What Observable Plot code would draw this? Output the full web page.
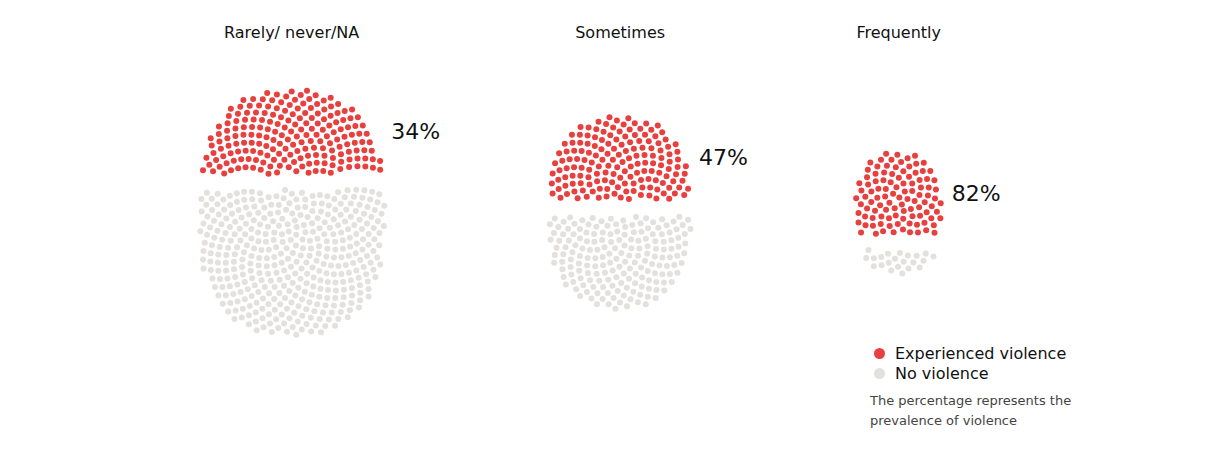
<html>
<head>
  <!-- load d3 and plot -->
  <script src="https://cdn.jsdelivr.net/npm/d3@7"></script>
  <script src="https://cdn.jsdelivr.net/npm/@observablehq/plot@0.6"></script>
  <style>
    body { margin: 0; background: #fff; font-family: "DejaVu Sans", sans-serif; }
    #wrap { position: relative; width: 1217px; height: 449px; }
    #legend { position: absolute; left: 874px; top: 343px; font-size: 16px; color: #111; }
    #legend .row { display: flex; align-items: center; height: 20px; }
    #legend .sw { width: 11px; height: 11px; border-radius: 50%; margin-right: 10px; }
    #legend .note { margin-top: 8px; margin-left: -4px; font-size: 13px; line-height: 20px; color: #444; }
  </style>
</head>
<body>
  <div id="wrap">
    <div id="chart"></div>
    <div id="legend">
      <div class="row"><span class="sw" style="background:#e8403e"></span>Experienced violence</div>
      <div class="row"><span class="sw" style="background:#e3e0de"></span>No violence</div>
      <div class="note">The percentage represents the<br>prevalence of violence</div>
    </div>
  </div>
  <script>
    // groups, estimated number of dots, and share who experienced violence
    const groups = ["Rarely/ never/NA", "Sometimes", "Frequently"];
    const totals = [580, 340, 125];
    const prevalence = [34, 47, 82];
    const statuses = ["Experienced violence", "No violence"];

    // layout settings
    const cell = 62;        // px² per dot
    const stretch = 1.24;   // blobs are a little taller than wide
    const power = 2.4;      // superellipse exponent, a bit boxier than a circle
    const gap = 8;          // half of the split between the two parts
    const spacing = 164;    // space between blobs
    const golden = Math.PI * (3 - Math.sqrt(5));
    const c = Math.sqrt(cell / Math.PI);

    // gamma function (lanczos), for the area of a unit superellipse
    function gamma(z) {
      const g = [76.18009172947146, -86.50532032941677, 24.01409824083091,
        -1.231739572450155, 0.1208650973866179e-2, -0.5395239384953e-5];
      let y = z, t = z + 5.5;
      t -= (z + 0.5) * Math.log(t);
      let s = 1.000000000190015;
      for (const k of g) s += k / ++y;
      return Math.exp(-t + Math.log(2.5066282746310005 * s / z));
    }
    const unitArea = 4 * gamma(1 + 1 / power) ** 2 / gamma(1 + 2 / power);

    const points = [];
    const labels = [];
    let cursor = 198;
    groups.forEach((g, j) => {
      const n = totals[j];
      const k = Math.round(n * prevalence[j] / 100);
      const a = Math.sqrt(n * cell / (unitArea * stretch));
      const b = a * stretch;
      const cx = cursor + a, cy = 212;
      cursor += 2 * a + spacing;
      // big sunflower, keep the n dots nearest the centre in superellipse terms
      const pts = d3.range(n * 3).map(i => {
        const r = c * Math.sqrt(i + 0.5);
        const t = i * golden;
        const dx = r * Math.cos(t), dy = r * Math.sin(t);
        const norm = (Math.abs(dx / a) ** power + Math.abs(dy / b) ** power) ** (1 / power);
        return {group: g, x: cx + dx, y: cy + dy, norm};
      });
      pts.sort((p, q) => p.norm - q.norm);
      // top k dots are the ones who experienced violence
      const kept = pts.slice(0, n).sort((p, q) => p.y - q.y);
      kept.forEach((p, i) => {
        p.status = i < k ? statuses[0] : statuses[1];
        p.y += i < k ? -gap : gap;
        points.push(p);
      });
      const red = kept.slice(0, k);
      labels.push({
        group: g,
        cx,
        top: 32,
        px: d3.max(red, p => p.x) + 11,
        py: (d3.min(red, p => p.y) + d3.max(red, p => p.y)) / 2,
        text: prevalence[j] + "%"
      });
    });

    const chart = Plot.plot({
      width: 1217,
      height: 449,
      margin: 0,
      x: {domain: [0, 1217], range: [0, 1217], axis: null},
      y: {domain: [0, 449], range: [0, 449], axis: null},
      color: {domain: statuses, range: ["#e8403e", "#e3e0de"]},
      style: {fontFamily: "DejaVu Sans, sans-serif"},
      marks: [
        Plot.dot(points, {x: "x", y: "y", r: 3, fill: "status", stroke: null}),
        Plot.text(labels, {x: "cx", y: "top", text: "group", fontSize: 16, fill: "#111"}),
        Plot.text(labels, {x: "px", y: "py", text: "text", fontSize: 22, textAnchor: "start", fill: "#111"})
      ]
    });

    document.getElementById("chart").appendChild(chart);
  </script>
</body>
</html>
